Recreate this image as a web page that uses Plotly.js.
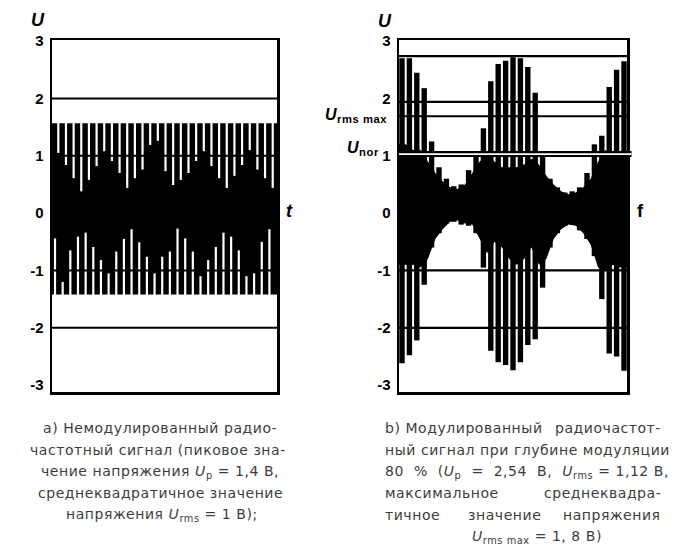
<!DOCTYPE html>
<html><head><meta charset="utf-8">
<script src="https://cdn.plot.ly/plotly-3.0.1.min.js"></script>
<style>html,body{margin:0;padding:0;background:#fff}
.annotation-text{letter-spacing:0.55px}</style>
</head><body><div id="chart" style="width:699px;height:554px"></div>
<script>
// ---------- data ----------
// y axis ticks (both panels)
const yTickVals = [-3, -2, -1, 0, 1, 2, 3];
const yTickText = ['-3', '-2', '-1', '0', '1', '2', '3'];

// (a) unmodulated RF signal: envelope
const aPeakPos = 1.57;
const aPeakNeg = -1.42;
// depth (V) reached by the white gaps between carrier cycles, top side
const aTopGap = [1.05, 0.84, 0.61, 0.38, 0.58, 0.82, 1.08, 0.91, 0.70, 0.44, 0.61, 0.76, 1.19, 1.26, 0.73,
                 0.49, 0.58, 0.70, 0.91, 1.08, 0.82, 0.61, 0.44, 0.65, 0.84, 1.10, 0.76, 0.61, 0.44];
// height (V) reached by the white gaps, bottom side
const aBotGap = [-0.44, -1.20, -0.65, -0.41, -0.34, -0.59, -0.82, -1.05, -0.67, -0.45, -0.28, -0.51, -0.76, -1.05, -0.76,
                 -0.67, -0.27, -0.44, -0.67, -1.10, -0.82, -0.59, -0.34, -0.41, -0.65, -1.10, -1.05, -0.50, -0.28];
const aLevels = [2, 1, -1, -2];

// (b) modulated RF signal (80 %): positive / negative carrier peaks
const bPeakPos = [2.70, 2.70, 2.45, 2.18, 1.25, 0.80, 0.60, 0.47, 0.50, 0.75, 1.05, 1.48, 2.30, 2.60, 2.66, 2.72,
                  2.70, 2.55, 2.10, 1.00, 0.60, 0.45, 0.36, 0.38, 0.45, 0.70, 1.20, 1.35, 2.20, 2.50, 2.65];
const bPeakNeg = [-2.62, -2.48, -2.22, -1.25, -0.60, -0.35, -0.18, -0.15, -0.20, -0.22, -0.35, -0.95, -2.40, -2.60, -2.65, -2.74,
                  -2.60, -2.30, -2.20, -1.30, -0.60, -0.35, -0.22, -0.20, -0.30, -0.45, -0.75, -1.50, -2.45, -2.50, -2.75];
// level reached by the gaps between peaks (signal core)
const bCoreTop = [1.20, 1.10, 1.10, 0.90, 0.70, 0.55, 0.45, 0.42, 0.50, 0.70, 0.90, 1.00, 0.90, 0.80, 0.80,
                  0.80, 0.85, 0.95, 0.85, 0.65, 0.50, 0.38, 0.33, 0.36, 0.45, 0.60, 0.90, 1.10, 1.00, 1.05];
const bCoreBot = [-0.90, -0.90, -0.95, -0.80, -0.45, -0.28, -0.15, -0.13, -0.18, -0.20, -0.45, -0.70, -0.50, -0.60, -0.80,
                  -0.90, -0.80, -0.60, -0.90, -0.80, -0.45, -0.28, -0.20, -0.22, -0.35, -0.55, -0.95, -1.00, -0.90, -0.95];
const bLevels = [2.74, 1.94, 1.69, -1, -2];
const bNorLevel = 1.03;

// ---------- build ----------
const W = 699, H = 554;
const px = v => v / W, py = v => 1 - v / H;
const xrA = [0.177, 29.56];
const xrB = [0.595, 31.405];
const BOT_OFFSET = -0.43;

function segs(xs, y0s, y1s) {
  const x = [], y = [];
  xs.forEach((xv, i) => { x.push(xv, xv, null); y.push(y0s[i], y1s[i], null); });
  return {x, y};
}

const traces = [];
// (a) band
traces.push({x: [xrA[0], xrA[1], xrA[1], xrA[0]], y: [aPeakNeg, aPeakNeg, aPeakPos, aPeakPos],
  fill: 'toself', fillcolor: '#000', mode: 'lines', line: {width: 0}, xaxis: 'x', yaxis: 'y', hoverinfo: 'skip'});
const aTopX = aTopGap.map((_, i) => i + 1);
let s = segs(aTopX, aTopGap.map(() => aPeakPos + 0.1), aTopGap);
traces.push({x: s.x, y: s.y, mode: 'lines', line: {color: '#fff', width: 2.2}, xaxis: 'x', yaxis: 'y', hoverinfo: 'skip'});
const aBotX = aBotGap.map((_, i) => i + 1 + BOT_OFFSET);
s = segs(aBotX, aBotGap.map(() => aPeakNeg - 0.1), aBotGap);
traces.push({x: s.x, y: s.y, mode: 'lines', line: {color: '#fff', width: 2.2}, xaxis: 'x', yaxis: 'y', hoverinfo: 'skip'});

// (b) core
const gapX = bCoreTop.map((_, i) => i + 1.5);
const cx = [xrB[0], ...gapX, xrB[1]];
const cTop = [bCoreTop[0], ...bCoreTop, bCoreTop[bCoreTop.length - 1]];
const cBot = [bCoreBot[0], ...bCoreBot, bCoreBot[bCoreBot.length - 1]];
traces.push({x: [...cx, ...cx.slice().reverse()], y: [...cTop, ...cBot.slice().reverse()],
  fill: 'toself', fillcolor: '#000', mode: 'lines', line: {width: 0}, xaxis: 'x2', yaxis: 'y2', hoverinfo: 'skip'});
const bX = bPeakPos.map((_, i) => i + 1);
s = segs(bX, bPeakPos.map(() => 0), bPeakPos);
traces.push({x: s.x, y: s.y, mode: 'lines', line: {color: '#000', width: 5.4}, xaxis: 'x2', yaxis: 'y2', hoverinfo: 'skip'});
s = segs(bX, bPeakNeg.map(() => 0), bPeakNeg);
traces.push({x: s.x, y: s.y, mode: 'lines', line: {color: '#000', width: 5.4}, xaxis: 'x2', yaxis: 'y2', hoverinfo: 'skip'});

// ---------- shapes ----------
const shapes = [];
aLevels.forEach(v => shapes.push({type: 'line', xref: 'x domain', yref: 'y', x0: 0, x1: 1, y0: v, y1: v, line: {color: '#000', width: 2}}));
bLevels.forEach(v => shapes.push({type: 'line', xref: 'x2 domain', yref: 'y2', x0: 0, x1: 1, y0: v, y1: v, line: {color: '#000', width: 2.2}}));
shapes.push({type: 'line', xref: 'x2 domain', yref: 'y2', x0: 0, x1: 1.02, y0: bNorLevel, y1: bNorLevel, line: {color: '#000', width: 6}});
shapes.push({type: 'line', xref: 'x2 domain', yref: 'y2', x0: 0, x1: 1.02, y0: bNorLevel, y1: bNorLevel, line: {color: '#fff', width: 1.6}});

// ---------- annotations ----------
const capFont = {family: 'DejaVu Sans', size: 14, color: '#3c3c3c'};
const lblFont = {family: 'Liberation Sans', size: 18, color: '#000'};
const ann = [];
function A(text, x, y, xanchor, font) {
  ann.push({text, x: px(x), y: py(y), xref: 'paper', yref: 'paper', xanchor: xanchor || 'center', yanchor: 'middle',
    showarrow: false, font: font || capFont});
}
A('<b><i>U</i></b>', 38, 20, 'center', lblFont);
A('<b><i>U</i></b>', 385, 21, 'center', lblFont);
A('<b><i>t</i></b>', 289, 211, 'center', lblFont);
A('<b>f</b>', 640, 211, 'center', lblFont);
A('<b><i>U</i><sub>rms max</sub></b>', 389, 115, 'right', {family: 'Liberation Sans', size: 16, color: '#000'});
A('<b><i>U</i><sub>nor</sub></b>', 381, 148, 'right', {family: 'Liberation Sans', size: 16, color: '#000'});

// caption a
const L = [428, 450, 472, 493, 515, 537];
const NB = '\u00a0\u00a0';
A('а) Немодулированный радио-', 160, L[0]);
A('частотный сигнал (пиковое зна-', 158, L[1]);
A('чение напряжения <i>U</i><sub>p</sub> = 1,4 В,', 160, L[2]);
A('среднеквадратичное значение', 160, L[3]);
A('напряжения <i>U</i><sub>rms</sub> = 1 В);', 162, L[4]);
// caption b
A('b) Модулированный', 383, L[0], 'left');
A('радиочастот-', 663, L[0], 'right');
A('ный сигнал при глубине модуляции', 383, L[1], 'left');
A('80' + NB + '%' + NB + '(<i>U</i><sub>p</sub>' + NB + '=' + NB + '2,54' + NB + 'В,' + NB + '<i>U</i><sub>rms</sub> = 1,12 В,', 383, L[2], 'left');
A('максимальное', 383, L[3], 'left');
A('среднеквадра-', 663, L[3], 'right');
A('тичное', 383, L[4], 'left');
A('значение', 504, L[4], 'center');
A('напряжения', 663, L[4], 'right');
A('<i>U</i><sub>rms max</sub> = 1, 8 B)', 537, L[5], 'center');

// ---------- axes ----------
const yr = [-3.12, 3.02];
const ydom = [1 - 392 / H, 1 - 40 / H];
function yax(anchor) {
  return {range: yr, domain: ydom, anchor, tickvals: yTickVals, ticktext: yTickText, showgrid: false, zeroline: false,
    showline: true, mirror: true, linewidth: 2.5, linecolor: '#000', ticks: '', ticklabelstandoff: 3,
    tickfont: {family: 'Liberation Sans', size: 15, color: '#000', weight: 'bold'}, fixedrange: true};
}
function xax(range, dom, anchor) {
  return {range, domain: dom, anchor, showticklabels: false, ticks: '', showgrid: false, zeroline: false,
    showline: true, mirror: true, linewidth: 2.5, linecolor: '#000', fixedrange: true};
}
const layout = {
  width: W, height: H, autosize: false, showlegend: false,
  margin: {l: 0, r: 0, t: 0, b: 0},
  paper_bgcolor: '#fff', plot_bgcolor: '#fff',
  xaxis: xax(xrA, [52 / W, 277 / W], 'y'),
  yaxis: yax('x'),
  xaxis2: xax(xrB, [399 / W, 627 / W], 'y2'),
  yaxis2: yax('x2'),
  shapes, annotations: ann
};
Plotly.newPlot('chart', traces, layout, {staticPlot: true, displayModeBar: false});
</script></body></html>
